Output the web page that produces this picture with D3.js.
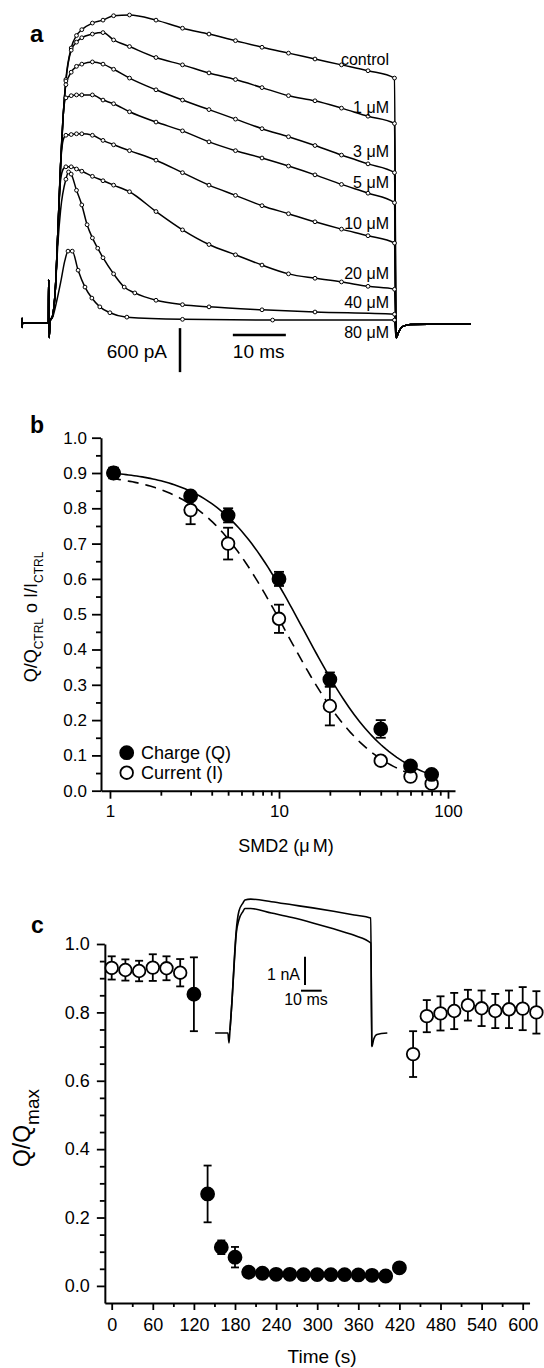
<!DOCTYPE html>
<html><head><meta charset="utf-8">
<script src="https://cdn.jsdelivr.net/npm/d3@7"></script>
<style>
body{margin:0;background:#fff}
svg{display:block}
text{font-family:"Liberation Sans",Arial,Helvetica,sans-serif;fill:#000}
</style>
</head><body>
<svg id="fig" width="544" height="1368"></svg>
<script>
// ================= DATA =================
// Panel a : current traces, [time (ms), current (nA)]
const aLabels = ["control","1 μM","3 μM","5 μM","10 μM","20 μM","40 μM","80 μM"];
const aPre  = [[-5.3,0.07],[-5.25,-0.06],[-5.2,0],[-0.3,0],[-0.25,0.59],[-0.15,-0.2],[0,0.02]];
const aTail = [[65.3,-0.2],[65.8,-0.12],[66.5,-0.05],[68,-0.02],[79.4,-0.01]];
const trControl = [[0,0.02],[0.5,0.1],[1,0.45],[1.5,1.27],[2,2.16],[2.5,2.84],[3,3.32],[4,3.75],[5,3.92],[6,4.0],[8,4.09],[10,4.13],[12,4.19],[15,4.2],[20,4.13],[25,4.02],[30,3.94],[35,3.85],[40,3.76],[45,3.68],[50,3.6],[55,3.52],[60,3.44],[65,3.34]];
const tr1uM  = [[0,0.02],[0.5,0.1],[1,0.45],[1.5,1.27],[2,2.16],[2.5,2.84],[3,3.3],[4,3.72],[5,3.83],[6,3.89],[8,3.94],[10,3.96],[12,3.86],[15,3.77],[20,3.62],[25,3.52],[30,3.41],[35,3.32],[40,3.21],[45,3.1],[50,3.03],[55,2.93],[60,2.82],[65,2.72]];
const tr3uM  = [[0,0.02],[0.5,0.1],[1,0.45],[1.5,1.27],[2,2.16],[2.5,2.84],[3,3.25],[4,3.42],[5,3.5],[6,3.53],[8,3.56],[10,3.53],[12,3.46],[15,3.34],[20,3.18],[25,3.04],[30,2.91],[35,2.78],[40,2.65],[45,2.54],[50,2.42],[55,2.29],[60,2.17],[65,2.05]];
const tr5uM  = [[0,0.02],[0.5,0.1],[1,0.45],[1.5,1.27],[2,2.16],[2.5,2.84],[3,3.07],[4,3.1],[5,3.11],[6,3.11],[8,3.11],[10,3.04],[12,2.99],[15,2.88],[20,2.74],[25,2.62],[30,2.47],[35,2.35],[40,2.25],[45,2.14],[50,2.02],[55,1.89],[60,1.77],[65,1.64]];
const tr10uM = [[0,0.02],[0.5,0.1],[1,0.45],[1.5,1.27],[2,2.16],[2.5,2.5],[3,2.56],[4,2.57],[5,2.58],[6,2.58],[8,2.56],[10,2.49],[12,2.43],[15,2.35],[20,2.22],[25,2.05],[30,1.88],[35,1.74],[40,1.6],[45,1.49],[50,1.38],[55,1.28],[60,1.19],[65,1.09]];
const tr20uM = [[0,0.02],[0.5,0.1],[1,0.45],[1.5,1.27],[2,1.95],[2.5,2.1],[3,2.13],[4,2.13],[5,2.1],[6,2.07],[8,2.0],[10,1.94],[12,1.88],[15,1.79],[20,1.52],[25,1.27],[30,1.07],[35,0.93],[40,0.79],[45,0.67],[50,0.61],[55,0.56],[60,0.5],[65,0.46]];
const tr40uM = [[0,0.02],[0.5,0.1],[1,0.45],[1.5,1.1],[2,1.54],[3,1.96],[3.5,2.06],[4,2.03],[5,1.81],[6,1.61],[7,1.34],[8,1.16],[9,1.02],[10,0.89],[12,0.67],[14,0.49],[16,0.41],[20,0.31],[25,0.25],[30,0.22],[40,0.18],[50,0.15],[65,0.12]];
const tr80uM = [[0,0.02],[0.5,0.08],[1.3,0.31],[2,0.55],[2.8,0.85],[3.4,0.98],[4.2,0.98],[5.3,0.72],[6.6,0.49],[7.9,0.34],[9.4,0.22],[11.3,0.14],[14.5,0.08],[25,0.05],[42,0.04],[65,0.04]];
const aTraces = [trControl,tr1uM,tr3uM,tr5uM,tr10uM,tr20uM,tr40uM,tr80uM];
const aLabelBaseI = [3.52,2.87,2.26,1.84,1.28,0.6,0.2,-0.21]; // label baseline position (nA)

// Panel b : dose–response
const conc = [1.05,3,5,10,20,40,60,80];
const chargeMean = [0.90,0.835,0.78,0.60,0.315,0.175,0.07,0.046];
const chargeErr  = [0.015,0.01,0.02,0.02,0.02,0.025,0.01,0.01];
const currentMean = [0.90,0.795,0.70,0.487,0.24,0.085,0.04,0.02];
const currentErr  = [0.015,0.04,0.045,0.04,0.055,0.01,0.005,0.01];
const chargeFit  = {top:0.91, ic50:14, n:1.7, from:1, to:80};
const currentFit = {top:0.90, ic50:11, n:1.7, from:1, to:60};
const bMajor = [1,10,100];
const bMinor = [2,3,4,5,6,7,8,9,20,30,40,50,60,70,80,90];

// Panel c : time course
const timeCtrl = [0,20,40,60,80,100];
const ctrlMean = [0.93,0.924,0.921,0.931,0.929,0.916];
const ctrlErr  = [0.034,0.031,0.03,0.039,0.035,0.04];
const timeDrug = [120,140,160,180,200,220,240,260,280,300,320,340,360,380,400,420];
const drugMean = [0.853,0.269,0.113,0.084,0.04,0.037,0.034,0.034,0.033,0.033,0.033,0.033,0.032,0.031,0.029,0.053];
const drugErr  = [0.108,0.083,0.02,0.03,0.005,0.005,0.005,0.005,0.005,0.005,0.005,0.005,0.005,0.005,0.005,0.012];
const timeWash = [440,460,480,500,520,540,560,580,600,620];
const washMean = [0.678,0.789,0.797,0.804,0.821,0.812,0.804,0.809,0.811,0.80];
const washErr  = [0.067,0.047,0.05,0.053,0.045,0.052,0.05,0.055,0.063,0.062];
const cTimeTicks = [0,60,120,180,240,300,360,420,480,540,600];
// inset traces [time (ms), current (nA)]
const insetUpper = [[-7.2,0],[-1,0],[-0.5,-0.35],[0,0.1],[1,1.17],[2,2.5],[3,3.6],[4.3,4.3],[6.3,4.6],[7.2,4.7],[10,4.73],[20,4.64],[30,4.53],[40,4.42],[50,4.3],[60,4.17],[68,4.06],[68.5,-0.48],[69.5,-0.2],[71,-0.05],[76,0]];
const insetLower = [[0,0.1],[1,1.17],[2,2.4],[3,3.5],[4.3,4.0],[6.3,4.3],[7.2,4.4],[10,4.4],[20,4.24],[30,4.08],[40,3.89],[50,3.68],[60,3.45],[68,3.18],[68.5,-0.48]];

// ================= DRAWING =================
const svg = d3.select("#fig");
const BLACK = "#000";

function panelLabel(txt, x, y, size){
  svg.append("text").attr("x",x).attr("y",y).attr("font-size",size).attr("font-weight","bold").text(txt);
}

// ---------- Panel a ----------
const xA = d3.scaleLinear().domain([0,10]).range([50,103]);
const yA = d3.scaleLinear().domain([0,0.6]).range([323,279]);
const gA = svg.append("g");
const lineA = d3.line().x(d=>xA(d[0])).y(d=>yA(d[1])).curve(d3.curveMonotoneX);
aTraces.forEach(tr=>{
  gA.append("path").attr("d", lineA(aPre.concat(tr, aTail)))
    .attr("fill","none").attr("stroke",BLACK).attr("stroke-width",1.5);
});
aTraces.forEach(tr=>{
  gA.selectAll(null).data(tr.filter(d=>d[0]>=3)).enter().append("circle")
    .attr("cx",d=>xA(d[0])).attr("cy",d=>yA(d[1])).attr("r",1.9)
    .attr("fill","#fff").attr("stroke",BLACK).attr("stroke-width",1);
});
aLabels.forEach((l,i)=>{
  gA.append("text").attr("x",389).attr("y",yA(aLabelBaseI[i])).attr("text-anchor","end")
    .attr("font-size",16).text(l);
});
// scale bars (600 pA vertical, 10 ms horizontal)
gA.append("line").attr("x1",180).attr("x2",180).attr("y1",yA(-0.07)).attr("y2",yA(-0.07)+ (yA(0)-yA(0.6)))
  .attr("stroke",BLACK).attr("stroke-width",2.5);
gA.append("text").attr("x",167).attr("y",358).attr("text-anchor","end").attr("font-size",19).text("600 pA");
gA.append("line").attr("x1",xA(34.5)).attr("x2",xA(44.5)).attr("y1",335).attr("y2",335)
  .attr("stroke",BLACK).attr("stroke-width",2.5);
gA.append("text").attr("x",xA(34.5)).attr("y",358).attr("font-size",19).text("10 ms");
panelLabel("a",30,42,24);

// ---------- Panel b ----------
const xB = d3.scaleLog().domain([0.885,110]).range([101,455]);
const yB = d3.scaleLinear().domain([0,1]).range([790.7,437.7]);
const gB = svg.append("g");
function styleAxis(g){
  g.selectAll("path.domain").attr("stroke",BLACK).attr("stroke-width",2);
  g.selectAll(".tick line").attr("stroke",BLACK).attr("stroke-width",1.8);
  g.selectAll(".tick text").attr("fill",BLACK).attr("font-family","Liberation Sans, Arial, sans-serif");
}
const yBAx = gB.append("g").attr("transform","translate(101,0)")
  .call(d3.axisLeft(yB).tickValues(d3.range(0,1.01,0.1)).tickSize(9).tickSizeOuter(0).tickPadding(5).tickFormat(d3.format(".1f")));
yBAx.selectAll(".tick text").attr("font-size",17);
styleAxis(yBAx);
const yBMin = gB.append("g").attr("transform","translate(101,0)")
  .call(d3.axisLeft(yB).tickValues(d3.range(0.05,1,0.1)).tickSize(5).tickFormat(""));
yBMin.select("path.domain").remove(); styleAxis(yBMin);
const xBAx = gB.append("g").attr("transform","translate(0,790.7)")
  .call(d3.axisBottom(xB).tickValues(bMajor).tickSize(8).tickSizeOuter(0).tickPadding(6).tickFormat(d3.format("d")));
xBAx.selectAll(".tick text").attr("font-size",17);
styleAxis(xBAx);
const xBMin = gB.append("g").attr("transform","translate(0,790.7)")
  .call(d3.axisBottom(xB).tickValues(bMinor).tickSize(5).tickFormat(""));
xBMin.select("path.domain").remove(); styleAxis(xBMin);

function hillPts(p){
  const pts=[]; const a=Math.log10(p.from), b=Math.log10(p.to);
  for(let i=0;i<=120;i++){const c=Math.pow(10,a+(b-a)*i/120); pts.push([c, p.top/(1+Math.pow(c/p.ic50,p.n))]);}
  return pts;
}
const lineB = d3.line().x(d=>xB(d[0])).y(d=>yB(d[1]));
gB.append("path").attr("d",lineB(hillPts(chargeFit))).attr("fill","none").attr("stroke",BLACK).attr("stroke-width",1.6);
gB.append("path").attr("d",lineB(hillPts(currentFit))).attr("fill","none").attr("stroke",BLACK).attr("stroke-width",1.6).attr("stroke-dasharray","11,7");

function errBars(g, xs, ys, es, xs_, ys_, cap){
  xs.forEach((x,i)=>{
    const cx=xs_(x), y1=ys_(ys[i]-es[i]), y2=ys_(ys[i]+es[i]);
    g.append("line").attr("x1",cx).attr("x2",cx).attr("y1",y1).attr("y2",y2).attr("stroke",BLACK).attr("stroke-width",1.8);
    [y1,y2].forEach(y=>g.append("line").attr("x1",cx-cap/2).attr("x2",cx+cap/2).attr("y1",y).attr("y2",y).attr("stroke",BLACK).attr("stroke-width",1.8));
  });
}
function markers(g, xs, ys, xs_, ys_, filled, r){
  g.selectAll(null).data(xs.map((x,i)=>[x,ys[i]])).enter().append("circle")
    .attr("cx",d=>xs_(d[0])).attr("cy",d=>ys_(d[1])).attr("r",r)
    .attr("fill",filled?BLACK:"#fff").attr("stroke",BLACK).attr("stroke-width",1.8);
}
errBars(gB, conc, currentMean, currentErr, xB, yB, 10);
errBars(gB, conc, chargeMean, chargeErr, xB, yB, 10);
markers(gB, conc, currentMean, xB, yB, false, 6.3);
markers(gB, conc, chargeMean, xB, yB, true, 6.5);
// legend
gB.append("circle").attr("cx",126.7).attr("cy",752.7).attr("r",6.5).attr("fill",BLACK).attr("stroke",BLACK).attr("stroke-width",1.8);
gB.append("circle").attr("cx",126.7).attr("cy",772.7).attr("r",6.3).attr("fill","#fff").attr("stroke",BLACK).attr("stroke-width",1.8);
gB.append("text").attr("x",141).attr("y",759).attr("font-size",18).text("Charge (Q)");
gB.append("text").attr("x",141).attr("y",779).attr("font-size",18).text("Current (I)");
// axis titles
const xt = gB.append("text").attr("x",286).attr("y",852).attr("text-anchor","middle").attr("font-size",18);
xt.append("tspan").text("SMD2 (μ"); xt.append("tspan").attr("dx",3).text("M)");
const yt = gB.append("text").attr("transform","translate(37,617) rotate(-90)").attr("text-anchor","middle").attr("font-size",18);
yt.append("tspan").text("Q/Q");
yt.append("tspan").attr("font-size",12).attr("dy",6).text("CTRL");
yt.append("tspan").attr("dy",-6).text(" o I/I");
yt.append("tspan").attr("font-size",12).attr("dy",6).text("CTRL");
panelLabel("b",30,433,23);

// ---------- Panel c ----------
const xC = d3.scaleLinear().domain([-10,610]).range([104.85,529.55]);
const yC = d3.scaleLinear().domain([-0.05,1.0]).range([1303,944]);
const gC = svg.append("g");
const yCAx = gC.append("g").attr("transform","translate(104.85,0)")
  .call(d3.axisLeft(yC).tickValues([0,0.2,0.4,0.6,0.8,1.0]).tickSize(8).tickSizeOuter(0).tickPadding(7).tickFormat(d3.format(".1f")));
yCAx.selectAll(".tick text").attr("font-size",18);
styleAxis(yCAx);
const yCMin = gC.append("g").attr("transform","translate(104.85,0)")
  .call(d3.axisLeft(yC).tickValues(d3.range(0.05,1,0.05).filter(v=>Math.abs(v*5-Math.round(v*5))>1e-6)).tickSize(5).tickFormat(""));
yCMin.select("path.domain").remove(); styleAxis(yCMin);
const xCAx = gC.append("g").attr("transform","translate(0,1303)")
  .call(d3.axisBottom(xC).tickValues(cTimeTicks).tickSize(7).tickSizeOuter(0).tickPadding(8).tickFormat(d3.format("d")));
xCAx.selectAll(".tick text").attr("font-size",18);
styleAxis(xCAx);
const xCMin = gC.append("g").attr("transform","translate(0,1303)")
  .call(d3.axisBottom(xC).tickValues(d3.range(30,600,60)).tickSize(4).tickFormat(""));
xCMin.select("path.domain").remove(); styleAxis(xCMin);

// inset
const xI = d3.scaleLinear().domain([0,10]).range([230,250.7]);
const yI = d3.scaleLinear().domain([0,1]).range([1033,1004.7]);
const lineI = d3.line().x(d=>xI(d[0])).y(d=>yI(d[1])).curve(d3.curveMonotoneX);
gC.append("path").attr("d",lineI(insetUpper)).attr("fill","none").attr("stroke",BLACK).attr("stroke-width",1.6);
gC.append("path").attr("d",lineI(insetLower)).attr("fill","none").attr("stroke",BLACK).attr("stroke-width",1.6);
gC.append("line").attr("x1",305).attr("x2",305).attr("y1",956.7).attr("y2",956.7+(yI(0)-yI(1))).attr("stroke",BLACK).attr("stroke-width",2);
gC.append("text").attr("x",300).attr("y",980).attr("text-anchor","end").attr("font-size",16).text("1 nA");
gC.append("line").attr("x1",301).attr("x2",301+(xI(10)-xI(0))).attr("y1",990.7).attr("y2",990.7).attr("stroke",BLACK).attr("stroke-width",2);
gC.append("text").attr("x",306).attr("y",1005).attr("text-anchor","middle").attr("font-size",16).text("10 ms");

errBars(gC, timeCtrl, ctrlMean, ctrlErr, xC, yC, 8);
errBars(gC, timeDrug, drugMean, drugErr, xC, yC, 8);
errBars(gC, timeWash, washMean, washErr, xC, yC, 8);
markers(gC, timeCtrl, ctrlMean, xC, yC, false, 6.3);
markers(gC, timeDrug, drugMean, xC, yC, true, 6.5);
markers(gC, timeWash, washMean, xC, yC, false, 6.3);

gC.append("text").attr("x",322).attr("y",1363).attr("text-anchor","middle").attr("font-size",19).text("Time (s)");
const yct = gC.append("text").attr("transform","translate(30,1128) rotate(-90)").attr("text-anchor","middle").attr("font-size",23);
yct.append("tspan").text("Q/Q");
yct.append("tspan").attr("font-size",19).attr("dy",9).text("max");
panelLabel("c",31,933,23);
</script>
</body></html>
